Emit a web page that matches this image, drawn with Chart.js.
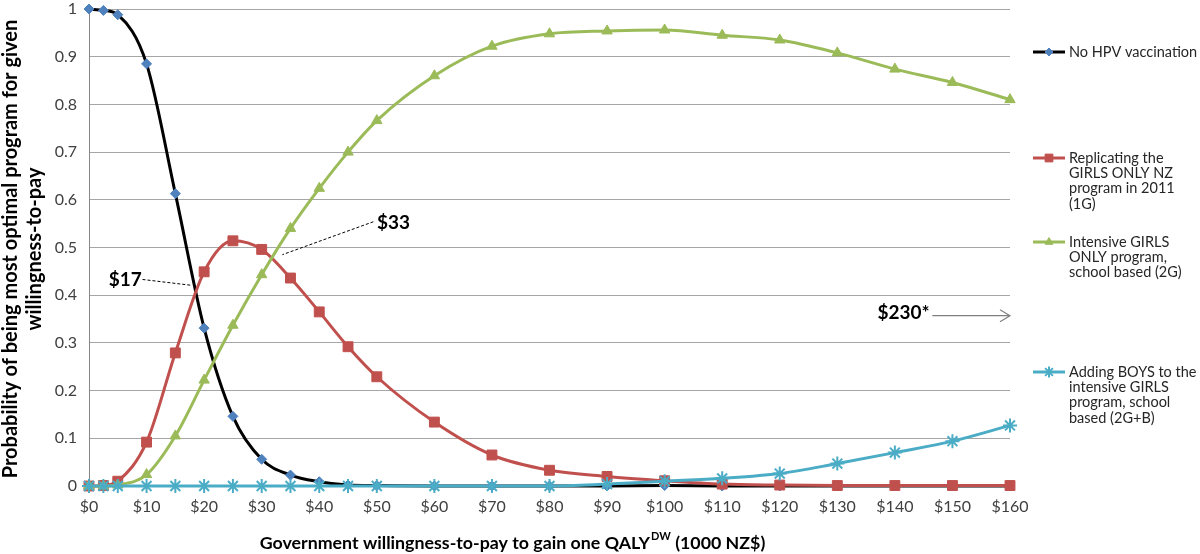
<!DOCTYPE html>
<html>
<head>
<meta charset="utf-8">
<script src="https://cdn.jsdelivr.net/npm/chart.js@4.4.1/dist/chart.umd.min.js"></script>
<style>
html,body{margin:0;padding:0;background:#fff;}
canvas{display:block;}
</style>
</head>
<body>
<canvas id="c" width="1200" height="554"></canvas>
<script>
// ---- data ----
const wtp = [0, 2.5, 5, 10, 15, 20, 25, 30, 35, 40, 45, 50, 60, 70, 80, 90, 100, 110, 120, 130, 140, 150, 160];
const noHPV = [1, 0.997, 0.988, 0.885, 0.613, 0.331, 0.146, 0.056, 0.023, 0.009, 0.002, 0.001, 0, 0, 0, 0, 0.001, 0, 0, 0, 0, 0, 0];
const girls1G = [0, 0.001, 0.01, 0.092, 0.279, 0.449, 0.514, 0.496, 0.436, 0.365, 0.292, 0.229, 0.134, 0.065, 0.033, 0.02, 0.011, 0.004, 0.002, 0.001, 0.001, 0.001, 0.001];
const girls2G = [0, 0, 0.002, 0.024, 0.105, 0.222, 0.337, 0.443, 0.54, 0.624, 0.7, 0.766, 0.86, 0.922, 0.948, 0.954, 0.956, 0.945, 0.935, 0.908, 0.874, 0.846, 0.81];
const boys2GB = [0, 0, 0, 0, 0, 0, 0, 0, 0, 0, 0, 0, 0, 0, 0, 0.004, 0.01, 0.016, 0.026, 0.047, 0.07, 0.094, 0.127];
const xTickLabels = ['$0','$10','$20','$30','$40','$50','$60','$70','$80','$90','$100','$110','$120','$130','$140','$150','$160'];
const yTickLabels = ['0','0.1','0.2','0.3','0.4','0.5','0.6','0.7','0.8','0.9','1'];
const seriesNames = [
  ['No HPV vaccination'],
  ['Replicating the','GIRLS ONLY NZ','program in 2011','(1G)'],
  ['Intensive GIRLS','ONLY program,','school based (2G)'],
  ['Adding BOYS to the','intensive GIRLS','program, school','based (2G+B)']
];
const annotations = [
  {text:'$17', tx:6.3, ty:0.433, x1:9.3, y1:0.433, x2:17.6, y2:0.421},
  {text:'$33', tx:52.9, ty:0.551, x1:49.4, y1:0.554, x2:33.6, y2:0.485}
];
const arrowNote = {text:'$230*', tx:141.5, ty:0.362, x1:146.5, x2:160, y:0.357};

const FONT = 'Lato, "Open Sans", sans-serif';

function pts(ys){ return wtp.map((x,i)=>({x:x, y:ys[i]})); }

const styles = [
  {line:'#000000', fill:'#4F81BD', style:'rectRot', r:5, bw:1},
  {line:'#C0504D', fill:'#C0504D', style:'rect', r:7, bw:1},
  {line:'#9BBB59', fill:'#9BBB59', style:'triangle', r:6, bw:1},
  {line:'#4BACC6', fill:'#4BACC6', style:'star', r:7, bw:2}
];
const allData = [noHPV, girls1G, girls2G, boys2GB];

const datasets = allData.map((d,i)=>{
  const s = styles[i];
  return {
    label: seriesNames[i].join(' '),
    data: pts(d),
    borderColor: s.line,
    borderWidth: 3,
    backgroundColor: s.fill,
    pointBackgroundColor: s.fill,
    pointBorderColor: s.fill,
    pointBorderWidth: s.bw,
    pointStyle: s.style,
    pointRadius: s.r,
    pointHoverRadius: s.r,
    cubicInterpolationMode: 'monotone',
    fill: false,
    clip: 12,
    order: 4 - i
  };
});

const overlay = {
  id: 'overlay',
  afterDraw(chart){
    const ctx = chart.ctx;
    const xs = chart.scales.x, ys = chart.scales.y;
    ctx.save();
    // annotations with dashed leaders
    annotations.forEach(a=>{
      ctx.font = 'bold 19px ' + FONT;
      ctx.fillStyle = '#000';
      ctx.textAlign = 'center';
      ctx.textBaseline = 'middle';
      ctx.fillText(a.text, xs.getPixelForValue(a.tx), ys.getPixelForValue(a.ty));
      ctx.beginPath();
      ctx.setLineDash([3,2]);
      ctx.strokeStyle = '#000';
      ctx.lineWidth = 1;
      ctx.moveTo(xs.getPixelForValue(a.x1), ys.getPixelForValue(a.y1));
      ctx.lineTo(xs.getPixelForValue(a.x2), ys.getPixelForValue(a.y2));
      ctx.stroke();
      ctx.setLineDash([]);
    });
    // $230* arrow
    {
      ctx.font = 'bold 19px ' + FONT;
      ctx.fillStyle = '#000';
      ctx.textAlign = 'center';
      ctx.textBaseline = 'middle';
      ctx.fillText(arrowNote.text, xs.getPixelForValue(arrowNote.tx), ys.getPixelForValue(arrowNote.ty));
      const ax1 = xs.getPixelForValue(arrowNote.x1), ax2 = xs.getPixelForValue(arrowNote.x2), ay = ys.getPixelForValue(arrowNote.y);
      ctx.strokeStyle = '#808080';
      ctx.lineWidth = 1.2;
      ctx.beginPath();
      ctx.moveTo(ax1, ay); ctx.lineTo(ax2, ay);
      ctx.moveTo(ax2-10, ay-6); ctx.lineTo(ax2, ay); ctx.lineTo(ax2-10, ay+6);
      ctx.stroke();
    }
    // legend
    const legendY = [52, 158, 242, 372];
    const lineH = 15.4;
    styles.forEach((s,i)=>{
      const y = legendY[i];
      ctx.strokeStyle = s.line;
      ctx.lineWidth = 3;
      ctx.beginPath();
      ctx.moveTo(1033, y); ctx.lineTo(1065, y);
      ctx.stroke();
      const opts = {pointStyle:s.style, radius: Math.max(4, s.r-1.5), borderWidth:s.bw, rotation:0};
      ctx.fillStyle = s.fill; ctx.strokeStyle = s.fill; ctx.lineWidth = s.bw;
      if (Chart.helpers && Chart.helpers.drawPoint) {
        Chart.helpers.drawPoint(ctx, opts, 1049, y);
      }
      ctx.font = '14.5px ' + FONT;
      ctx.fillStyle = '#262626';
      ctx.textAlign = 'left';
      ctx.textBaseline = 'middle';
      seriesNames[i].forEach((t,j)=> ctx.fillText(t, 1069, y + j*lineH));
    });
    // axis titles
    ctx.fillStyle = '#000';
    ctx.textBaseline = 'middle';
    // x title with superscript
    const p1 = 'Government willingness-to-pay to gain one QALY', sup = 'DW', p2 = ' (1000 NZ$)';
    const tf = 'bold 17.8px ' + FONT, sf = 'bold 11px ' + FONT;
    ctx.font = tf; const w1 = ctx.measureText(p1).width, w3 = ctx.measureText(p2).width;
    ctx.font = sf; const w2 = ctx.measureText(sup).width;
    let sx = 512 - (w1+w2+w3)/2;
    ctx.textAlign = 'left';
    ctx.font = tf; ctx.fillText(p1, sx, 543);
    ctx.font = sf; ctx.fillText(sup, sx + w1 + 1, 536);
    ctx.font = tf; ctx.fillText(p2, sx + w1 + w2 + 1, 543);
    // y title
    ctx.save();
    ctx.translate(0, 249);
    ctx.rotate(-Math.PI/2);
    ctx.textAlign = 'center';
    ctx.font = 'bold 20px ' + FONT;
    ctx.fillText('Probability of being most optimal program for given', 0, 11);
    ctx.fillText('willingness-to-pay', 0, 35);
    ctx.restore();
    ctx.restore();
  }
};

new Chart(document.getElementById('c'), {
  type: 'line',
  data: { datasets },
  plugins: [overlay],
  options: {
    responsive: false,
    animation: false,
    events: [],
    layout: { padding: { left: 0, right: 190, top: 0, bottom: 0 } },
    plugins: { legend: { display: false }, tooltip: { enabled: false } },
    scales: {
      x: {
        type: 'linear', min: 0, max: 160,
        grid: { display: false, drawTicks: false },
        border: { display: true, color: '#868686', width: 1 },
        ticks: {
          stepSize: 10, padding: 11, maxRotation: 0, autoSkip: false,
          font: { family: FONT, size: 16 }, color: '#404040',
          callback: (v) => xTickLabels[Math.round(v/10)]
        },
        afterFit: (s) => { s.height = 68; }
      },
      y: {
        min: 0, max: 1,
        grid: { color: '#A6A6A6', lineWidth: 1, drawTicks: false },
        border: { display: true, color: '#868686', width: 1 },
        ticks: {
          stepSize: 0.1, padding: 12,
          font: { family: FONT, size: 16 }, color: '#404040',
          callback: (v) => yTickLabels[Math.round(v*10)]
        },
        afterFit: (s) => { s.width = 89; s.paddingTop = 6; s.paddingBottom = 0; }
      }
    }
  }
});
</script>
</body>
</html>
